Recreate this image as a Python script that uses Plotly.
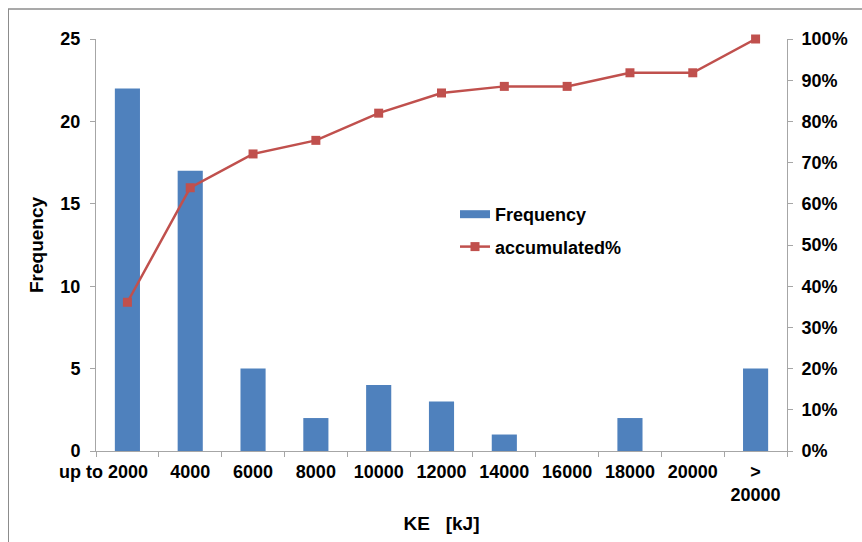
import plotly.graph_objects as go

categories = ["up to 2000", "4000", "6000", "8000", "10000", "12000", "14000",
              "16000", "18000", "20000", "> 20000"]
tick_labels = ["", "4000", "6000", "8000", "10000", "12000",
               "14000", "16000", "18000", "20000", "><br>20000"]
first_label = "up to 2000"
frequency = [22, 17, 5, 2, 4, 3, 1, 0, 2, 0, 5]
accumulated = [36.1, 63.9, 72.1, 75.4, 82.0, 86.9, 88.5, 88.5, 91.8, 91.8, 100.0]
left_ticks = [0, 5, 10, 15, 20, 25]
right_ticks = [0, 10, 20, 30, 40, 50, 60, 70, 80, 90, 100]

W, H = 862, 542
L, R, T, B = 96, 75, 39, 91
pw, ph = W - L - R, H - T - B

fam = "Liberation Sans, Arial, sans-serif"
font = dict(family=fam, size=18, color="black")
titlefont = dict(family=fam, size=19, color="black")
tickfont = dict(family=fam, size=18, color="black", weight="bold")
axcol = "#A6A6A6"
blue, red = "#4F81BD", "#C0504D"
border = "#8C8C8C"

fig = go.Figure()
fig.add_trace(go.Bar(x=categories, y=frequency, name="<b>Frequency</b>",
                     marker=dict(color=blue, line=dict(width=0)),
                     width=0.4, showlegend=False))
# legend-only entry to get a wide, flat bar swatch like the original
fig.add_trace(go.Scatter(x=[None], y=[None], name="<b>Frequency</b>", mode="lines",
                         line=dict(color=blue, width=8), legendgroup="a"))
fig.add_trace(go.Scatter(x=categories, y=accumulated, name="<b>accumulated%</b>",
                         yaxis="y2", mode="lines+markers", cliponaxis=False,
                         line=dict(color=red, width=2.5),
                         marker=dict(symbol="square", size=9, color=red),
                         legendgroup="b"))

px_x = lambda p: (p - L) / pw
px_y = lambda p: (T + ph - p) / ph

fig.update_layout(
    width=W, height=H,
    margin=dict(l=L, r=R, t=T, b=B, autoexpand=False),
    paper_bgcolor="white", plot_bgcolor="white",
    font=font,
    showlegend=True,
    legend=dict(x=(455 - L) / pw, y=(451 - 196) / ph, xanchor="left", yanchor="top",
                bgcolor="rgba(0,0,0,0)", font=font, traceorder="grouped",
                tracegroupgap=6),
    xaxis=dict(type="category", range=[-0.5, len(categories) - 0.5],
               showline=True, linecolor=axcol, linewidth=1,
               ticks="outside", tickson="boundaries", ticklen=5, tickcolor=axcol,
               tickvals=categories, ticktext=tick_labels, ticklabelstandoff=4,
               tickangle=0, automargin=False, tickfont=tickfont,
               showgrid=False, zeroline=False,
               title=dict(text="<b>KE\u00a0\u00a0\u00a0[kJ]</b>", font=titlefont, standoff=12)),
    yaxis=dict(range=[0, 25], tickvals=left_ticks, showline=True, linecolor=axcol,
               linewidth=1, ticks="outside", ticklen=5, tickcolor=axcol,
               automargin=False, tickfont=tickfont, ticklabelstandoff=6,
               showgrid=False, zeroline=False,
               title=dict(text="<b>Frequency</b>", font=titlefont, standoff=11)),
    yaxis2=dict(range=[0, 100], tickvals=right_ticks,
                ticktext=[f"{v}%" for v in right_ticks],
                overlaying="y", side="right", showline=True, linecolor=axcol,
                linewidth=1, ticks="outside", ticklen=5, tickcolor=axcol,
                automargin=False, tickfont=tickfont, ticklabelstandoff=5,
                showgrid=False, zeroline=False),
    annotations=[dict(x=categories[0], xref="x", y=0, yref="paper",
                      text="<b>" + first_label + "</b>", showarrow=False,
                      xanchor="center", yanchor="middle", xshift=-24, yshift=-21,
                      font=tickfont)],
    shapes=[
        dict(type="line", xref="paper", yref="paper",
             x0=px_x(8), x1=px_x(W), y0=px_y(9), y1=px_y(9),
             line=dict(color=border, width=1.5), layer="above"),
        dict(type="line", xref="paper", yref="paper",
             x0=px_x(8.5), x1=px_x(8.5), y0=px_y(9), y1=px_y(H),
             line=dict(color=border, width=1), layer="above"),
    ],
)

fig.write_html("out.html", config={"displayModeBar": False},
               post_script="document.body.style.margin='0px';")
